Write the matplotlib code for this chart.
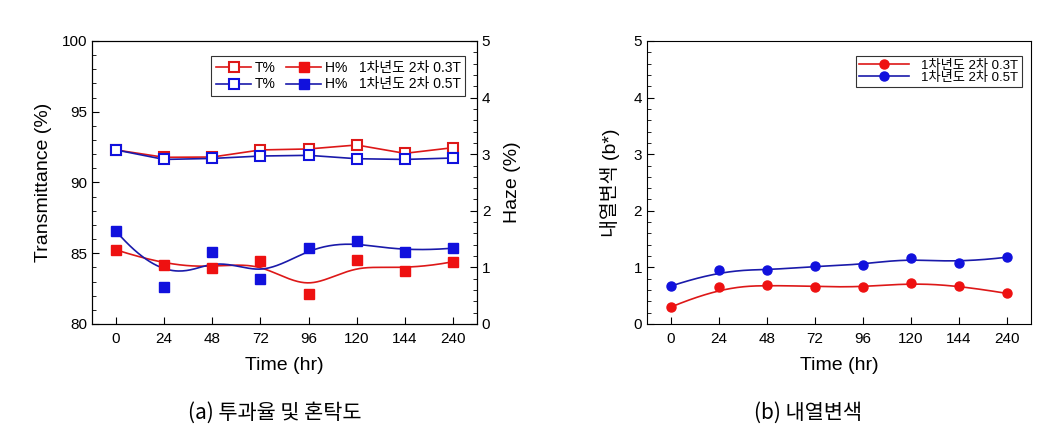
import numpy as np
import matplotlib.pyplot as plt
from matplotlib.ticker import MultipleLocator

plt.rcParams['font.family'] = ['Liberation Sans', 'Noto Sans CJK KR']
plt.rcParams['axes.unicode_minus'] = False

# 데이터
시간 = ['0', '24', '48', '72', '96', '120', '144', '240']
T_03 = [92.3, 91.78, 91.8, 92.3, 92.37, 92.65, 92.06, 92.46]
T_05 = [92.3, 91.63, 91.7, 91.87, 91.92, 91.68, 91.63, 91.73]
H_03 = [1.31, 1.04, 0.99, 1.11, 0.53, 1.13, 0.94, 1.10]
H_05 = [1.64, 0.66, 1.27, 0.80, 1.35, 1.47, 1.27, 1.34]
b_03 = [0.30, 0.65, 0.69, 0.66, 0.65, 0.73, 0.68, 0.54]
b_05 = [0.67, 0.95, 0.95, 1.02, 1.05, 1.17, 1.08, 1.18]

ROJO = '#ee1111'
AZUL = '#1111dd'
ROJO_L = '#dd1818'
AZUL_L = '#1a1aaa'


def bspline(py, n=300):
    # B-spline (Origin 스타일) - 데이터 점을 제어점으로 사용
    k = 3
    m = len(py)
    px = np.arange(m, dtype=float)
    knots = np.concatenate([np.zeros(k), np.arange(m - k + 1), np.full(k, m - k)]).astype(float)
    t = np.linspace(0, m - k, n)
    nk = len(knots)
    B = np.zeros((n, nk - 1))
    for i in range(nk - 1):
        B[:, i] = (knots[i] <= t) & (t < knots[i + 1])
    last = np.where(knots[:-1] < knots[1:])[0][-1]
    B[t == knots[-1], last] = 1
    for d in range(1, k + 1):
        Bn = np.zeros((n, nk - 1 - d))
        for i in range(nk - 1 - d):
            izq = 0
            der = 0
            den1 = knots[i + d] - knots[i]
            if den1 > 0:
                izq = (t - knots[i]) / den1 * B[:, i]
            den2 = knots[i + d + 1] - knots[i + 1]
            if den2 > 0:
                der = (knots[i + d + 1] - t) / den2 * B[:, i + 1]
            Bn[:, i] = izq + der
        B = Bn
    return B @ px, B @ np.asarray(py, dtype=float)


fig = plt.figure(figsize=(10.49, 4.48), dpi=100)
ax = fig.add_axes([0.0877, 0.2768, 0.3670, 0.6317])
ax2 = ax.twinx()
ax3 = fig.add_axes([0.6168, 0.2768, 0.3660, 0.6317])

x = np.arange(len(시간))

# (a) 투과율 및 혼탁도
l1, = ax.plot(x, T_03, '-s', color=ROJO_L, mfc='white', mec=ROJO_L, ms=7, mew=1.5, lw=1.2, label='T%')
l2, = ax.plot(x, T_05, '-s', color=AZUL_L, mfc='white', mec=AZUL, ms=7, mew=1.5, lw=1.2, label='T%')
ax2.plot(x, H_03, 's', color=ROJO, ms=6.5, zorder=3)
ax2.plot(x, H_05, 's', color=AZUL, ms=6.5, zorder=3)
sx, sy = bspline(H_03)
ax2.plot(sx, sy, '-', color=ROJO_L, lw=1.2)
sx, sy = bspline(H_05)
ax2.plot(sx, sy, '-', color=AZUL_L, lw=1.2)
h3, = ax2.plot([], [], '-s', color=ROJO_L, mfc=ROJO, mec=ROJO, ms=6.5, lw=1.2)
h5, = ax2.plot([], [], '-s', color=AZUL_L, mfc=AZUL, mec=AZUL, ms=6.5, lw=1.2)

ax.set_xlim(-0.5, 7.5)
ax.set_ylim(80, 100)
ax2.set_ylim(0, 5)
ax.set_xticks(x)
ax.set_xticklabels(시간)
ax.yaxis.set_major_locator(MultipleLocator(5))
ax.yaxis.set_minor_locator(MultipleLocator(1))
ax2.yaxis.set_major_locator(MultipleLocator(1))
ax2.yaxis.set_minor_locator(MultipleLocator(0.2))
ax.tick_params(axis='both', which='both', direction='in', labelsize=11)
ax.tick_params(axis='x', length=5, pad=6)
ax.tick_params(axis='y', which='major', length=5)
ax.tick_params(axis='y', which='minor', length=3)
ax2.tick_params(axis='y', which='both', direction='in', labelsize=11)
ax2.tick_params(axis='y', which='major', length=5)
ax2.tick_params(axis='y', which='minor', length=3)
ax.set_xlabel('Time (hr)', fontsize=14, labelpad=8)
ax.set_ylabel('Transmittance (%)', fontsize=14, labelpad=7)
ax2.set_ylabel('Haze (%)', fontsize=14, labelpad=10)

leg = ax2.legend([l1, l2, h3, h5],
                 ['T%', 'T%', 'H%   1차년도 2차 0.3T', 'H%   1차년도 2차 0.5T'],
                 ncol=2, loc='upper right', bbox_to_anchor=(0.988, 0.97),
                 fontsize=10, frameon=True, fancybox=False, edgecolor='black',
                 handlelength=2.5, columnspacing=0.8, handletextpad=0.25,
                 borderpad=0.35, labelspacing=0.15)
leg.get_frame().set_linewidth(0.8)

# (b) 내열변색
ax3.plot(x, b_03, 'o', color=ROJO, ms=6.5, zorder=3)
ax3.plot(x, b_05, 'o', color=AZUL, ms=6.5, zorder=3)
sx, sy = bspline(b_03)
ax3.plot(sx, sy, '-', color=ROJO_L, lw=1.2)
sx, sy = bspline(b_05)
ax3.plot(sx, sy, '-', color=AZUL_L, lw=1.2)
r1, = ax3.plot([], [], '-o', color=ROJO_L, mfc=ROJO, mec=ROJO, ms=6.5, lw=1.2)
r2, = ax3.plot([], [], '-o', color=AZUL_L, mfc=AZUL, mec=AZUL, ms=6.5, lw=1.2)
ax3.set_xlim(-0.5, 7.5)
ax3.set_ylim(0, 5)
ax3.set_xticks(x)
ax3.set_xticklabels(시간)
ax3.yaxis.set_major_locator(MultipleLocator(1))
ax3.yaxis.set_minor_locator(MultipleLocator(0.2))
ax3.tick_params(axis='both', which='both', direction='in', labelsize=11)
ax3.tick_params(axis='x', length=5, pad=6)
ax3.tick_params(axis='y', which='major', length=5)
ax3.tick_params(axis='y', which='minor', length=3)
ax3.set_xlabel('Time (hr)', fontsize=14, labelpad=8)
ax3.set_ylabel('내열변색 (b*)', fontsize=14, labelpad=10)
leg2 = ax3.legend([r1, r2], ['1차년도 2차 0.3T', '1차년도 2차 0.5T'],
                  loc='upper right', bbox_to_anchor=(0.993, 0.97),
                  fontsize=9.5, frameon=True, fancybox=False, edgecolor='black',
                  handlelength=3.8, handletextpad=0.9, borderpad=0.25,
                  labelspacing=0.0)
leg2.get_frame().set_linewidth(0.8)

fig.text(0.262, 0.078, '(a) 투과율 및 혼탁도', ha='center', va='center', fontsize=15,
         family=['Noto Sans CJK KR'])
fig.text(0.770, 0.078, '(b) 내열변색', ha='center', va='center', fontsize=15,
         family=['Noto Sans CJK KR'])

fig.savefig('out.png', dpi=100)
